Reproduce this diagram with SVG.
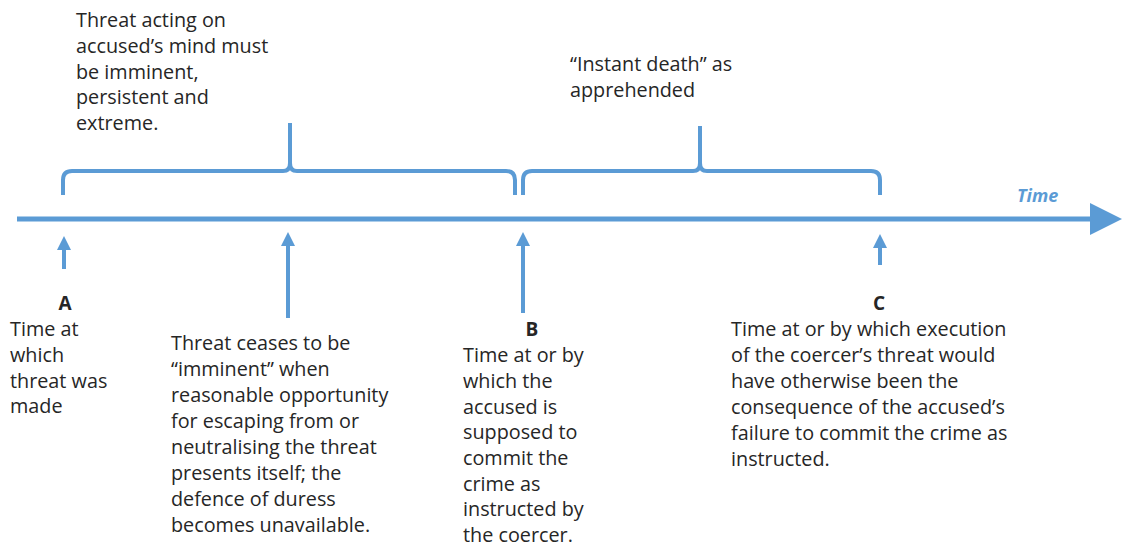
<svg xmlns="http://www.w3.org/2000/svg" width="1122" height="547" viewBox="0 0 1122 547">
<style>
.ln{fill:none;stroke:#5B9BD5;stroke-width:4;stroke-linecap:butt;stroke-linejoin:round}
.tl{fill:none;stroke:#5B9BD5;stroke-width:5}
.t{font-family:"Open Sans","Liberation Sans",sans-serif;font-size:19.8px;fill:#262626}
.lbl{font-family:"Open Sans","Liberation Sans",sans-serif;font-size:19px;font-weight:bold;fill:#262626;text-anchor:middle}
.time{font-family:"Open Sans","Liberation Sans",sans-serif;font-size:18px;font-weight:bold;font-style:italic;fill:#5B9BD5}
</style>
<defs>
<marker id="ah" viewBox="0 0 10 10" refX="0" refY="5" markerWidth="4" markerHeight="3.5" markerUnits="strokeWidth" orient="auto">
<path d="M0,0 L10,5 L0,10 z" fill="#5B9BD5"/>
</marker>
</defs>
<rect width="1122" height="547" fill="#ffffff"/>
<g id="connectors">
<path id="timeline" class="tl" d="M17,219 H1092"/>
<path d="M1090,203 L1122,219 L1090,235 z" fill="#5B9BD5"/>
<path id="brace1" class="ln" d="M63,195 V180 Q63,171 72,171 H283 Q290,171 290,163 Q290,171 297,171 H506 Q515,171 515,180 V195"/>
<path class="ln" d="M290,168 V123"/>
<path id="brace2" class="ln" d="M523,195 V180 Q523,171 532,171 H693 Q700,171 700,163 Q700,171 707,171 H871 Q880,171 880,180 V195"/>
<path class="ln" d="M700,168 V126"/>
<path id="arrowA" class="ln" d="M64,269 V250" marker-end="url(#ah)"/>
<path id="arrowMid" class="ln" d="M288,318 V246" marker-end="url(#ah)"/>
<path id="arrowB" class="ln" d="M523,313 V246" marker-end="url(#ah)"/>
<path id="arrowC" class="ln" d="M880,265 V248" marker-end="url(#ah)"/>
</g>
<g id="time-label"><text class="time" x="1017" y="202">Time</text></g>
<g id="node-top">
<text class="t" x="76"><tspan x="76" y="27">Threat acting on</tspan><tspan x="76" y="53">accused’s mind must</tspan><tspan x="76" y="79">be imminent,</tspan><tspan x="76" y="104">persistent and</tspan><tspan x="76" y="130">extreme.</tspan></text>
</g>
<g id="node-instant">
<text class="t"><tspan x="570" y="71">“Instant death” as</tspan><tspan x="570" y="97">apprehended</tspan></text>
</g>
<g id="node-A">
<text class="lbl" x="65" y="310">A</text>
<text class="t"><tspan x="10" y="336">Time at</tspan><tspan x="10" y="362">which</tspan><tspan x="10" y="388">threat was</tspan><tspan x="10" y="413">made</tspan></text>
</g>
<g id="node-mid">
<text class="t"><tspan x="171" y="350">Threat ceases to be</tspan><tspan x="171" y="376">“imminent” when</tspan><tspan x="171" y="402">reasonable opportunity</tspan><tspan x="171" y="428">for escaping from or</tspan><tspan x="171" y="454">neutralising the threat</tspan><tspan x="171" y="480">presents itself; the</tspan><tspan x="171" y="506">defence of duress</tspan><tspan x="171" y="532">becomes unavailable.</tspan></text>
</g>
<g id="node-B">
<text class="lbl" x="532" y="336">B</text>
<text class="t"><tspan x="463" y="362">Time at or by</tspan><tspan x="463" y="388">which the</tspan><tspan x="463" y="414">accused is</tspan><tspan x="463" y="439">supposed to</tspan><tspan x="463" y="465">commit the</tspan><tspan x="463" y="491">crime as</tspan><tspan x="463" y="516">instructed by</tspan><tspan x="463" y="542">the coercer.</tspan></text>
</g>
<g id="node-C">
<text class="lbl" x="879" y="310">C</text>
<text class="t"><tspan x="731" y="336">Time at or by which execution</tspan><tspan x="731" y="362">of the coercer’s threat would</tspan><tspan x="731" y="388">have otherwise been the</tspan><tspan x="731" y="414">consequence of the accused’s</tspan><tspan x="731" y="440">failure to commit the crime as</tspan><tspan x="731" y="466">instructed.</tspan></text>
</g>
</svg>
